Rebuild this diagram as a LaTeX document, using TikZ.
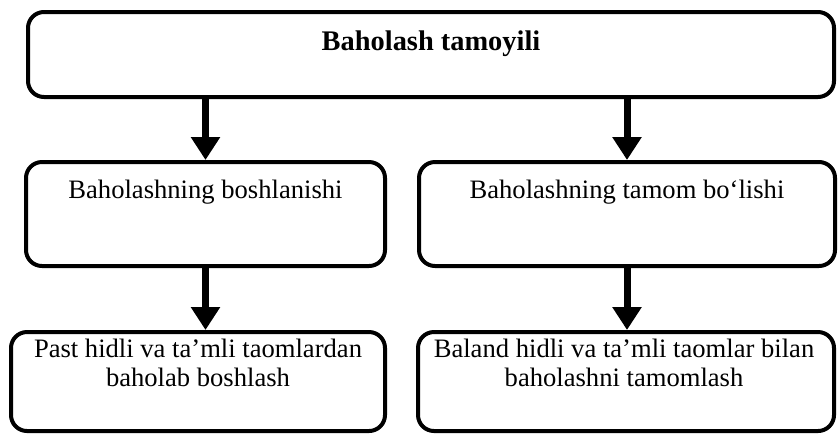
\documentclass[tikz,border=0pt]{standalone}
\usepackage{fontspec}
\setmainfont{Liberation Serif}
\usetikzlibrary{arrows.meta,positioning,calc}
\tikzset{
  box/.style  = { draw, line width=2pt, rounded corners=8pt, inner sep=0pt },
  lbl/.style  = { inner sep=0pt, anchor=base, align=center,
    font=\fontsize{13.3}{16.5}\selectfont },
  hd/.style   = { lbl, font=\fontsize{14.2}{17}\selectfont\bfseries },
  arr/.style  = { line width=3.5pt, -{Triangle[width=14pt,length=11.5pt]} }
}

\begin{document}
\begin{tikzpicture}[x=0.5pt,y=-0.5pt]
    \useasboundingbox (0,0) rectangle (838,435);
    % frames
    \node[box, minimum width=403pt, minimum height=42.5pt] (root) at (431,54.5) {};
    \node[box, minimum width=179.5pt, minimum height=52pt] (beg) at (205.5,214) {};
    \node[box, minimum width=208pt, minimum height=52pt] (fin) at (627,214) {};
    \node[box, minimum width=187pt, minimum height=49.5pt] (begx) at (198,381.5) {};
    \node[box, minimum width=208pt, minimum height=49.5pt] (finx) at (626,381.5) {};
    % texts (base = last line)
    \node[hd] (rootT) at (431,50) {Baholash tamoyili};
    \node[lbl] (begT) at (205.5,198) {Baholashning boshlanishi};
    \node[lbl] (finT) at (627,198) {Baholashning tamom bo‘lishi};
    \node[lbl] (begxT) at (198,386) {Past hidli va ta’mli taomlardan\\[-2pt]baholab boshlash};
    \node[lbl] (finxT) at (624,386) {Baland hidli va ta’mli taomlar bilan\\[-2pt]baholashni tamomlash};
    % arrows
    \draw[arr] (beg.north |- root.south) -- (beg.north);
    \draw[arr] (fin.north |- root.south) -- (fin.north);
    \draw[arr] (beg.south) -- (beg.south |- begx.north);
    \draw[arr] (fin.south) -- (fin.south |- finx.north);
\end{tikzpicture}
\end{document}
